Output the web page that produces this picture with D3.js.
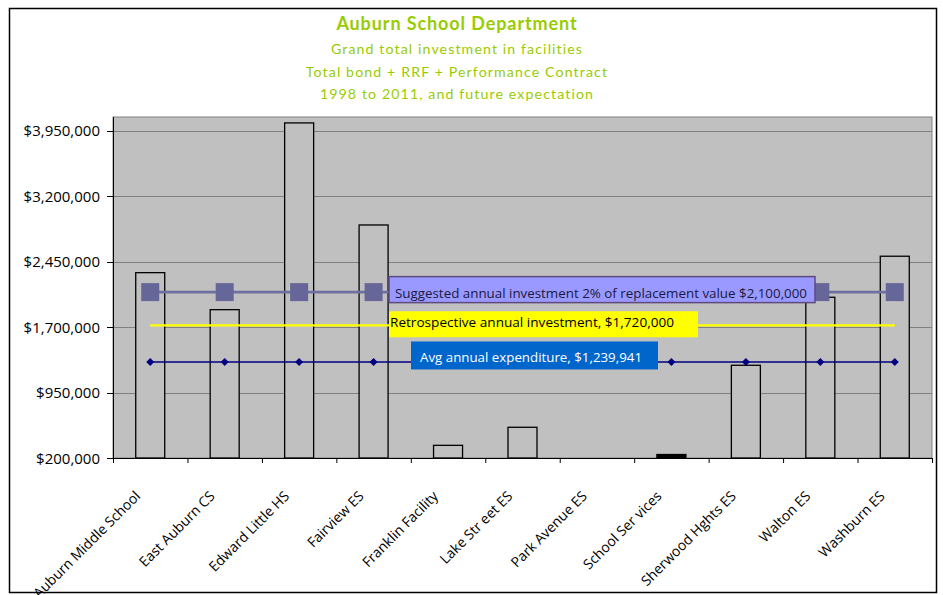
<!DOCTYPE html>
<html>
<head>
<meta charset="utf-8">
<script src="https://cdn.jsdelivr.net/npm/d3@7/dist/d3.min.js"></script>
<style>
  html, body { margin: 0; padding: 0; background: #fff; }
  svg { display: block; }
</style>
</head>
<body>
<svg id="chart" width="943" height="595"></svg>
<script>
const categories = ["Auburn Middle School", "East Auburn CS", "Edward Little HS", "Fairview ES",
  "Franklin Facility", "Lake Str eet ES", "Park Avenue ES", "School Ser vices",
  "Sherwood Hghts ES", "Walton ES", "Washburn ES"];
const investment = [2323000, 1899000, 4038000, 2869000, 345000, 552000, 0, 240000, 1262000, 2041000, 2511000];
const suggestedValue = 2100000;
const retrospectiveValue = 1720000;
const avgValue = 1300000;
const yTicks = [200000, 950000, 1700000, 2450000, 3200000, 3950000];
const titleLines = ["Grand total investment in facilities", "Total bond + RRF + Performance Contract", "1998 to 2011, and future expectation"];
const labels = {
  suggested: "Suggested annual investment 2% of replacement value $2,100,000",
  retrospective: "Retrospective annual investment, $1,720,000",
  avg: "Avg annual expenditure, $1,239,941"
};

const svg = d3.select("#chart");
const L = 113, R = 932, T = 117, B = 458;

// outer frame
svg.append("rect").attr("x", 9.5).attr("y", 8.5).attr("width", 927).attr("height", 584)
  .attr("fill", "#fff").attr("stroke", "#000").attr("stroke-width", 1.5);

// titles
const green = "#99cc00";
svg.append("text").attr("x", 457).attr("y", 30).attr("text-anchor", "middle")
  .attr("font-family", "Lato, 'Open Sans', sans-serif").attr("font-weight", "bold")
  .attr("font-size", 18).attr("letter-spacing", 0.9).attr("fill", green).text("Auburn School Department");
const subY = [54.3, 76.8, 99.2];
titleLines.forEach((t, i) => {
  svg.append("text").attr("x", 457).attr("y", subY[i]).attr("text-anchor", "middle")
    .attr("font-family", "Lato, 'Open Sans', sans-serif")
    .attr("font-size", 14.2).attr("letter-spacing", 1.1).attr("fill", green).text(t);
});

const x = d3.scaleBand().domain(categories).range([L, R]).paddingInner(0).paddingOuter(0);
const y = d3.scaleLinear().domain([200000, 4100000]).range([B, T + 0.5]);

// plot background
svg.append("rect").attr("x", L).attr("y", T).attr("width", R - L).attr("height", B - T)
  .attr("fill", "#c0c0c0").attr("stroke", "#808080").attr("stroke-width", 1);

// gridlines
svg.append("g").selectAll("line").data(yTicks.slice(1)).join("line")
  .attr("x1", L).attr("x2", R)
  .attr("y1", d => Math.round(y(d)) + 0.5).attr("y2", d => Math.round(y(d)) + 0.5)
  .attr("stroke", "#808080").attr("stroke-width", 1);

// bars
const bw = 29;
const plot = svg.append("g");
plot.selectAll("rect.bar").data(categories.map((c, i) => ({ c, v: investment[i] })).filter(d => d.v > 200000))
  .join("rect").attr("class", "bar")
  .attr("x", d => x(d.c) + x.bandwidth() / 2 - bw / 2)
  .attr("y", d => y(d.v))
  .attr("width", bw)
  .attr("height", d => B - y(d.v))
  .attr("fill", d => d.v < 300000 ? "#000" : "#c0c0c0")
  .attr("stroke", "#000").attr("stroke-width", 1.3);

const cx = c => x(c) + x.bandwidth() / 2;

// suggested line + squares
const line = d3.line().x(d => cx(d.c)).y(d => y(d.v));
const sugData = categories.map(c => ({ c, v: suggestedValue }));
plot.append("path").datum(sugData).attr("d", line).attr("fill", "none")
  .attr("stroke", "#7070a0").attr("stroke-width", 2.7);
plot.selectAll("rect.sq").data(sugData).join("rect").attr("class", "sq")
  .attr("x", d => cx(d.c) - 9).attr("y", d => y(d.v) - 9)
  .attr("width", 18).attr("height", 18).attr("fill", "#666699");

// retrospective line
const retData = categories.map(c => ({ c, v: retrospectiveValue }));
plot.append("path").datum(retData).attr("d", line).attr("fill", "none")
  .attr("stroke", "#ffff00").attr("stroke-width", 2.2);

// avg line + diamonds
const avgData = categories.map(c => ({ c, v: avgValue }));
plot.append("path").datum(avgData).attr("d", line).attr("fill", "none")
  .attr("stroke", "#000080").attr("stroke-width", 1.5);
plot.selectAll("path.dia").data(avgData).join("path").attr("class", "dia")
  .attr("transform", d => `translate(${cx(d.c)},${y(d.v)})`)
  .attr("d", "M0,-4L4,0L0,4L-4,0Z").attr("fill", "#000080");

// axes lines
svg.append("line").attr("x1", L + 0.5).attr("x2", L + 0.5).attr("y1", T).attr("y2", B)
  .attr("stroke", "#000").attr("stroke-width", 1);
svg.append("line").attr("x1", L).attr("x2", R).attr("y1", B + 0.5).attr("y2", B + 0.5)
  .attr("stroke", "#000").attr("stroke-width", 1);

// y axis ticks & labels
const yAxis = svg.append("g");
yAxis.selectAll("line").data(yTicks).join("line")
  .attr("x1", 107).attr("x2", L).attr("y1", d => Math.round(y(d)) + 0.5).attr("y2", d => Math.round(y(d)) + 0.5)
  .attr("stroke", "#000");
yAxis.selectAll("text").data(yTicks).join("text")
  .attr("x", 100).attr("y", d => y(d) + 5.5).attr("text-anchor", "end")
  .attr("font-family", "'Open Sans', sans-serif").attr("font-size", 15).attr("fill", "#000")
  .text(d => "$" + d3.format(",")(d));

// x ticks
const xb = categories.map(c => x(c)).concat([R]);
svg.append("g").selectAll("line").data(xb).join("line")
  .attr("x1", d => d + 0.5).attr("x2", d => d + 0.5).attr("y1", B).attr("y2", B + 5)
  .attr("stroke", "#000");
svg.append("g").selectAll("text").data(categories).join("text")
  .attr("transform", c => `translate(${cx(c) - 9},${497}) rotate(-45)`)
  .attr("text-anchor", "end")
  .attr("font-family", "'Open Sans', sans-serif").attr("font-size", 14).attr("fill", "#000")
  .text(c => c);

// annotation labels
const ann = svg.append("g").attr("font-family", "'Open Sans', sans-serif").attr("font-size", 13);
// suggested
ann.append("rect").attr("x", 389).attr("y", y(suggestedValue) - 15.5).attr("width", 426).attr("height", 26)
  .attr("fill", "#9999ff").attr("stroke", "#604a7b").attr("stroke-width", 1.5);
ann.append("text").attr("x", 395).attr("y", y(suggestedValue) + 5.5).attr("fill", "#1a1a40")
  .attr("textLength", 412).attr("lengthAdjust", "spacingAndGlyphs").text(labels.suggested);
// retrospective
ann.append("rect").attr("x", 389).attr("y", y(retrospectiveValue) - 14).attr("width", 309).attr("height", 26)
  .attr("fill", "#ffff00");
ann.append("text").attr("x", 390).attr("y", y(retrospectiveValue) + 1.5).attr("fill", "#000")
  .attr("textLength", 284).attr("lengthAdjust", "spacingAndGlyphs").text(labels.retrospective);
// avg
ann.append("rect").attr("x", 411).attr("y", y(avgValue) - 20.5).attr("width", 247).attr("height", 28)
  .attr("fill", "#0066cc");
ann.append("text").attr("x", 420).attr("y", y(avgValue) + 0.5).attr("fill", "#fff")
  .attr("textLength", 222).attr("lengthAdjust", "spacingAndGlyphs").text(labels.avg);
</script>
</body>
</html>
